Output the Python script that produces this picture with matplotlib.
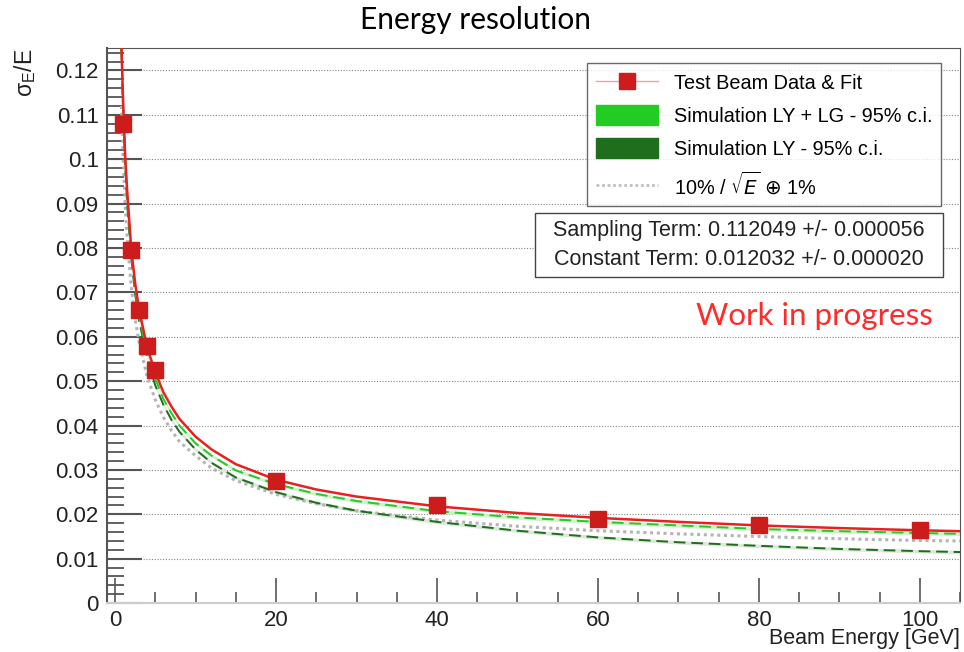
import numpy as np
import matplotlib
matplotlib.use('Agg')
import matplotlib.pyplot as plt
from matplotlib.patches import Patch, Rectangle
from matplotlib.lines import Line2D
from matplotlib.ticker import MultipleLocator

# test beam points
beam_e = [1, 2, 3, 4, 5, 20, 40, 60, 80, 100]
res_data = [0.108, 0.0795, 0.066, 0.058, 0.0525, 0.0275, 0.022, 0.019, 0.0175, 0.0165]
res_err = [0.0008, 0.0006, 0.0005, 0.0004, 0.0004, 0.0003, 0.0003, 0.0003, 0.0003, 0.0003]

# curves
curve_e = [0.8, 1, 1.25, 1.5, 2, 2.5, 3, 4, 5, 6, 7, 8, 10, 12, 15, 20, 25, 30,
           40, 50, 60, 70, 80, 90, 100, 105]
fit_red = [0.125, 0.113, 0.101, 0.093, 0.080, 0.072, 0.066, 0.0575, 0.052, 0.0475,
           0.0443, 0.0415, 0.0375, 0.0346, 0.0313, 0.0278, 0.0256, 0.0240, 0.0218,
           0.0203, 0.0192, 0.0183, 0.0175, 0.0169, 0.0164, 0.0162]
sim_lylg = [0.125, 0.112, 0.100, 0.092, 0.079, 0.0705, 0.0645, 0.056, 0.0505, 0.046,
            0.0428, 0.040, 0.036, 0.0332, 0.0299, 0.0268, 0.0246, 0.0230, 0.0207,
            0.0193, 0.0183, 0.0175, 0.0167, 0.0162, 0.0158, 0.0156]
sim_ly = [0.125, 0.111, 0.099, 0.090, 0.078, 0.0695, 0.0635, 0.055, 0.049, 0.0447,
          0.0413, 0.0386, 0.0346, 0.0316, 0.0283, 0.0250, 0.0226, 0.0208, 0.0183,
          0.0163, 0.0148, 0.0137, 0.0129, 0.0122, 0.0117, 0.0115]
ref_curve = [0.112, 0.1005, 0.0900, 0.0825, 0.0714, 0.0640, 0.0586, 0.0510, 0.0458,
             0.0419, 0.0389, 0.0364, 0.0332, 0.0304, 0.0276, 0.0245, 0.0224, 0.0208,
             0.0187, 0.0173, 0.0163, 0.0156, 0.0150, 0.0145, 0.0141, 0.0140]
band_w = [0.0004] * len(curve_e)

plt.rcParams['font.family'] = ['Liberation Sans', 'DejaVu Sans']

fig = plt.figure(figsize=(9.64, 6.52), dpi=100)
ax = fig.add_axes([0.111, 0.075, 0.885, 0.851])

ce = np.array(curve_e)
bw = np.array(band_w)
lg = np.array(sim_lylg)
ly = np.array(sim_ly)

# bands + central lines
ax.fill_between(ce, lg - bw, lg + bw, color='#d0f2c8', lw=0, zorder=2)
ax.fill_between(ce, ly - bw, ly + bw, color='#dce8d8', lw=0, zorder=2)
ax.plot(ce, ref_curve, color='#b4b4b4', lw=2.2, ls=(0, (1, 1.2)), zorder=3)
ax.plot(ce, ly, color='#1e6e1e', lw=1.4, ls=(0, (6, 3)), zorder=4)
ax.plot(ce, lg, color='#28c828', lw=1.4, ls=(0, (6, 3)), zorder=4)
ax.plot(ce, fit_red, color='#e82020', lw=1.8, zorder=5)

ax.errorbar(beam_e, res_data, yerr=res_err, fmt='s', ms=11, color='#cc1c1c',
            ecolor='#cc1c1c', elinewidth=1, capsize=0, zorder=6)

ax.set_xlim(-1, 105)
ax.set_ylim(0, 0.125)

ax.xaxis.set_major_locator(MultipleLocator(20))
ax.xaxis.set_minor_locator(MultipleLocator(5))
ax.yaxis.set_major_locator(MultipleLocator(0.01))
ax.yaxis.set_minor_locator(MultipleLocator(0.002))
ax.set_yticks(np.arange(0, 0.121, 0.01))
ax.set_yticklabels(['0'] + ['%g' % v for v in np.arange(0.01, 0.121, 0.01)])

ax.tick_params(axis='both', which='both', direction='in', colors='#555555',
               labelcolor='#222222', labelsize=16)
ax.tick_params(axis='y', which='major', length=25, width=1.5, pad=6)
ax.tick_params(axis='y', which='minor', length=12, width=1.3)
ax.tick_params(axis='x', which='major', length=18, width=1.2, pad=5)
ax.tick_params(axis='x', which='minor', length=8, width=1.2)

ax.grid(axis='y', which='major', color='#888888', ls=(0, (1, 1.5)), lw=0.8)
for s in ['top', 'right']:
    ax.spines[s].set_color('#555555')
ax.spines['left'].set_color('#555555')
ax.spines['left'].set_linewidth(1.5)
ax.spines['bottom'].set_color('#cccccc')
ax.spines['bottom'].set_linewidth(1.5)

ax.set_xlabel('Beam Energy [GeV]', fontsize=15.5, color='#222222')
ax.xaxis.set_label_coords(1.0, -0.045)
ax.xaxis.label.set_horizontalalignment('right')
ax.xaxis.label.set_verticalalignment('top')
ax.set_ylabel(r'$\mathregular{\sigma_E/E}$', fontsize=16.5, color='#222222')
ax.yaxis.set_label_coords(-0.081, 1.0)
ax.yaxis.label.set_verticalalignment('bottom')
ax.yaxis.label.set_horizontalalignment('right')

fig.text(0.493, 0.970, 'Energy resolution', ha='center', va='center',
         fontsize=21.5, family=['Lato', 'DejaVu Sans'], color='black')

# legend
h_data = Line2D([], [], color='#f0a0a0', lw=1, marker='s', ms=11,
                markerfacecolor='#cc1c1c', markeredgecolor='#cc1c1c')
h_lylg = Patch(facecolor='#22cc22', edgecolor='#22cc22')
h_ly = Patch(facecolor='#1e6e1e', edgecolor='#1e6e1e')
h_ref = Line2D([], [], color='#c0c0c0', lw=2, ls=(0, (1, 1)))
leg = ax.legend([h_data, h_lylg, h_ly, h_ref],
                ['Test Beam Data & Fit', 'Simulation LY + LG - 95% c.i.',
                 'Simulation LY - 95% c.i.', r'10% / $\sqrt{E}$ $\oplus$ 1%'],
                loc='upper left', bbox_to_anchor=(0.563, 0.973), fontsize=14.3,
                frameon=True, fancybox=False, edgecolor='#444444',
                handlelength=3.1, handleheight=1.2, labelspacing=0.6,
                borderpad=0.45, handletextpad=0.8, borderaxespad=0)
leg.get_frame().set_linewidth(1.0)
leg.set_zorder(10)

# fit parameter box
ax.add_patch(Rectangle((0.502, 0.587), 0.478, 0.1153, transform=ax.transAxes,
                       facecolor='white', edgecolor='#444444', lw=1, zorder=9))
ax.text(0.741, 0.645, 'Sampling Term: 0.112049 +/- 0.000056\nConstant Term: 0.012032 +/- 0.000020',
        transform=ax.transAxes, ha='center', va='center', fontsize=15.5,
        linespacing=1.5, color='#222222', zorder=10)

ax.text(0.968, 0.518, 'Work in progress', transform=ax.transAxes, ha='right',
        va='center', fontsize=22.5, color='#ff2a2a', family=['Lato', 'DejaVu Sans'], zorder=10)

fig.savefig('out.png', dpi=100)
